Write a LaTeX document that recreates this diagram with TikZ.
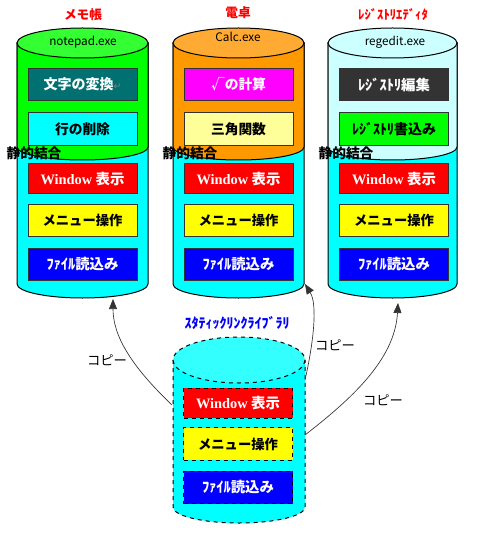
\documentclass[tikz,border=0pt]{standalone}
\usepackage{fontspec}
\setmainfont{Noto Sans CJK JP}
\newfontfamily\winfont{Liberation Serif}
\newfontfamily\symfont{DejaVu Sans}
\usepackage{tikz}
\usetikzlibrary{arrows.meta}
\usepackage{xcolor}
\definecolor{memo}{HTML}{00FF00}
\definecolor{memotop}{HTML}{33FF33}
\definecolor{calc}{HTML}{FF9900}
\definecolor{calctop}{HTML}{FFAA33}
\definecolor{reg}{HTML}{CCFFFF}
\definecolor{aqua}{HTML}{00FFFF}
\definecolor{aquatop}{HTML}{33FFFF}
\definecolor{tealbox}{HTML}{007070}
\definecolor{paleyel}{HTML}{FFFF99}
\definecolor{darkbox}{HTML}{333333}
\definecolor{edge}{HTML}{333333}
\definecolor{fnred}{HTML}{FF0000}
\definecolor{fnyel}{HTML}{FFFF00}
\definecolor{fnblue}{HTML}{0000FF}
\definecolor{fnmag}{HTML}{FF00FF}
\newcommand\fsz[1]{\fontsize{#1}{#1}\selectfont}

\begin{document}
\begin{tikzpicture}[
      x=0.75pt, y=-0.75pt,
      cyl/.style={draw=black, line width=0.75pt},
      fn/.style={draw=edge, line width=0.75pt, minimum width=81.75pt,
                 minimum height=24.5pt, inner sep=0pt,
                 font=\bfseries\fsz{10}},
      lb/.style={fn, draw=black, dashed},
      ttl/.style={font=\bfseries\fsz{9.5}, text=red},
      stat/.style={font=\bfseries\fsz{10.3}},
      copy/.style={font=\fsz{10}},
      cp/.style={edge, line width=0.5pt,
                 -{Triangle[length=7.5pt, width=6pt]}},
    ]
    \useasboundingbox (0,0) rectangle (480,538);

    % upper cylinders: aqua body, coloured upper part, top ellipse
    \foreach \cx/\rx/\tp/\bd in {82.5/65.5/memotop/memo,
                                  238.5/65.5/calctop/calc,
                                  392.5/64.5/reg/reg} {
      \fill[aqua, cyl] (\cx-\rx,43) -- (\cx-\rx,284)
        arc[start angle=180, end angle=0, x radius=\rx, y radius=14]
        -- (\cx+\rx,43) -- cycle;
      \fill[\bd, cyl] (\cx-\rx,43) -- (\cx-\rx,147)
        arc[start angle=180, end angle=0, x radius=\rx, y radius=13]
        -- (\cx+\rx,43) -- cycle;
      \filldraw[fill=\tp, cyl] (\cx,43) ellipse[x radius=\rx, y radius=15];
    }

    % library cylinder (dashed)
    \fill[aqua, cyl, dashed] (173,360) -- (173,507)
      arc[start angle=180, end angle=0, x radius=66, y radius=16]
      -- (305,360) -- cycle;
    \filldraw[fill=aquatop, cyl, dashed] (239,360)
      ellipse[x radius=66, y radius=23];

    % titles and file names
    \node[ttl] (memo-ttl) at (83,15) {メモ帳};
    \node[ttl] (calc-ttl) at (238,13) {電卓};
    \node[ttl] (reg-ttl) at (393,15) {ﾚｼﾞｽﾄﾘｴﾃﾞｨﾀ};
    \node[font=\fsz{8.8}] (memo-exe) at (83,42) {notepad.exe};
    \node[font=\fsz{8.8}] (calc-exe) at (238,37) {Calc.exe};
    \node[font=\fsz{8.8}] (reg-exe) at (395,42) {regedit.exe};
    \node[font=\bfseries\fsz{10.5}, text=fnblue] (lib-ttl) at (237,323)
      {ｽﾀﾃｨｯｸﾘﾝｸﾗｲﾌﾞﾗﾘ};

    % own functions
    \node[fn, fill=tealbox, text=white, font=\bfseries\fsz{10.5}]
      (memo-conv) at (82.5,84.5)
      {文字の変換{\symfont\mdseries\fsz{7}\textcolor{gray}{↵}}};
    \node[fn, fill=aqua, font=\bfseries\fsz{10.3}] (memo-del) at (82.5,129)
      {行の削除};
    \node[fn, fill=fnmag, text=white, font=\bfseries\fsz{10.3}]
      (calc-sqrt) at (238.5,84.5) {√の計算};
    \node[fn, fill=paleyel, font=\bfseries\fsz{10.3}] (calc-trig)
      at (238.5,129) {三角関数};
    \node[fn, fill=darkbox, draw=darkbox, text=white, font=\bfseries\fsz{10.8}]
      (reg-edit) at (394,84.5) {ﾚｼﾞｽﾄﾘ編集};
    \node[fn, fill=memo, font=\bfseries\fsz{10.5}] (reg-write) at (394,129)
      {ﾚｼﾞｽﾄﾘ書込み};

    % statically linked functions
    \foreach \n/\cx/\sx in {memo/82.5/34, calc/238.5/190, reg/394/346} {
      \node[fn, fill=fnred, text=white, minimum height=22.5pt,
            font=\bfseries\fsz{10.8}] (\n-win)
        at (\cx,179) {{\winfont Window} 表示};
      \node[fn, fill=fnyel] (\n-menu) at (\cx,220.5) {メニュー操作};
      \node[fn, fill=fnblue, text=white, font=\bfseries\fsz{10.8}] (\n-file)
        at (\cx,264.5) {ﾌｧｲﾙ読込み};
      \node[stat] (\n-stat) at (\sx,153) {静的結合};
    }

    \node[lb, fill=fnred, text=white, minimum height=22.5pt,
          font=\bfseries\fsz{10.8}] (lib-win)
      at (238,403) {{\winfont Window} 表示};
    \node[lb, fill=fnyel] (lib-menu) at (238,444) {メニュー操作};
    \node[lb, fill=fnblue, text=white, font=\bfseries\fsz{10.8}] (lib-file)
      at (238,487.5) {ﾌｧｲﾙ読込み};

    % copy arrows
    \coordinate (lib-w) at (172,405);
    \coordinate (lib-ne) at (305,380);
    \coordinate (lib-e) at (305,435);
    \coordinate (memo-bot) at (113,299);
    \coordinate (calc-bot) at (305,284);
    \coordinate (reg-bot) at (398,303);
    \draw[cp] (lib-w) .. controls (130,365) and (113,335) .. (memo-bot);
    \draw[cp] (lib-ne) .. controls (313,345) and (318,305) .. (calc-bot);
    \draw[cp] (lib-e) .. controls (350,400) and (395,360) .. (reg-bot);
    \node[copy] (copy-a) at (107,360) {コピー};
    \node[copy] (copy-b) at (335,345) {コピー};
    \node[copy] (copy-c) at (383,400) {コピー};
    \end{tikzpicture}
\end{document}
